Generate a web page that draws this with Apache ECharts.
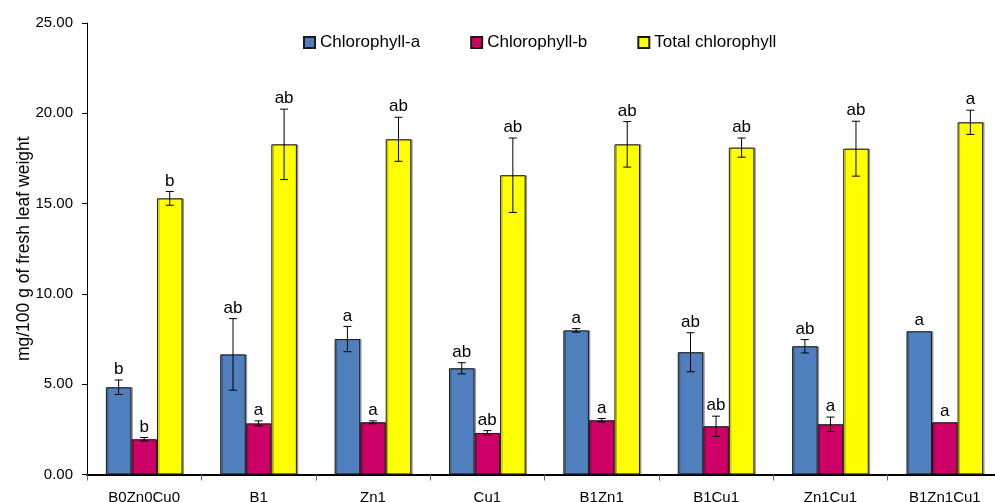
<!DOCTYPE html>
<html>
<head>
<meta charset="utf-8">
<style>
    html, body { margin: 0; padding: 0; background: #fff; }
    #chart { width: 995px; height: 502px; }
</style>
</head>
<body>
<div id="chart"></div>
<script src="https://cdn.jsdelivr.net/npm/echarts@6/dist/echarts.min.js"></script>
<script>
    // treatments
    var categories = ['B0Zn0Cu0', 'B1', 'Zn1', 'Cu1', 'B1Zn1', 'B1Cu1', 'Zn1Cu1', 'B1Zn1Cu1'];
    var yTicks = [0, 5, 10, 15, 20, 25];

    // means and error (+/-) per series
    var chlA = [4.83, 6.65, 7.50, 5.88, 7.98, 6.77, 7.10, 7.93];
    var chlAErr = [0.40, 1.98, 0.70, 0.31, 0.10, 1.08, 0.37, 0];
    var chlB = [1.95, 2.83, 2.89, 2.30, 3.00, 2.67, 2.78, 2.89];
    var chlBErr = [0.10, 0.14, 0.08, 0.13, 0.10, 0.56, 0.40, 0];
    var total = [15.29, 18.28, 18.56, 16.57, 18.28, 18.10, 18.04, 19.50];
    var totalErr = [0.38, 1.95, 1.22, 2.06, 1.26, 0.53, 1.52, 0.67];

    // significance letters
    var chlALetters = ['b', 'ab', 'a', 'ab', 'a', 'ab', 'ab', 'a'];
    var chlBLetters = ['b', 'a', 'a', 'ab', 'a', 'ab', 'a', 'a'];
    var totalLetters = ['b', 'ab', 'ab', 'ab', 'ab', 'ab', 'ab', 'a'];

    var FONT = "'Liberation Sans', Arial, sans-serif";
    var GAP = 0.33;

    function errData(vals, errs) {
        return vals.map(function (v, i) { return [i, v, errs[i]]; });
    }

    // error bar + letter drawn over the bar of series "pos" (0,1,2)
    function makeErr(pos, letters) {
        return function (params, api) {
            var i = api.value(0), v = api.value(1), e = api.value(2);
            var letter = letters[params.dataIndex];
            var band = api.size([1, 0])[0];
            var w = band * (1 - GAP) / 3;
            var c = api.coord([i, v]);
            var x = c[0] + (pos - 1) * w;
            var top = api.coord([i, v + e])[1];
            var bot = api.coord([i, v - e])[1];
            var kids = [];
            var st = { stroke: '#000', lineWidth: 1 };
            if (e > 0) {
                kids.push({ type: 'line', shape: { x1: x, y1: top, x2: x, y2: bot }, style: st });
                kids.push({ type: 'line', shape: { x1: x - 4, y1: top, x2: x + 4, y2: top }, style: st });
                kids.push({ type: 'line', shape: { x1: x - 4, y1: bot, x2: x + 4, y2: bot }, style: st });
            }
            kids.push({
                type: 'text',
                x: x,
                y: top - 2,
                style: {
                    text: letter,
                    align: 'center',
                    verticalAlign: 'bottom',
                    fill: '#000',
                    fontSize: 17,
                    fontFamily: FONT
                }
            });
            return { type: 'group', children: kids };
        };
    }

    var barStyle = function (color) {
        return {
            color: color,
            borderColor: '#1a1a1a',
            borderWidth: 1,
            shadowColor: 'rgba(0,0,0,0.3)',
            shadowOffsetX: 1.5,
            shadowOffsetY: 0
        };
    };

    var option = {
        animation: false,
        backgroundColor: '#fff',
        textStyle: { fontFamily: FONT, color: '#000' },
        legend: {
            data: ['Chlorophyll-a', 'Chlorophyll-b', 'Total chlorophyll'],
            left: 298,
            top: 29,
            icon: 'rect',
            itemWidth: 11,
            itemHeight: 11,
            itemGap: 50,
            textStyle: { fontSize: 17, color: '#000', fontFamily: FONT }
        },
        grid: { left: 87, right: -7, top: 23, bottom: 27.5, containLabel: false, outerBoundsMode: 'none' },
        xAxis: {
            type: 'category',
            data: categories,
            axisLine: { lineStyle: { color: '#000', width: 2 } },
            axisTick: { show: true, length: 6, lineStyle: { color: '#666' } },
            axisLabel: { color: '#000', fontSize: 15, margin: 16, fontFamily: FONT }
        },
        yAxis: {
            type: 'value',
            min: yTicks[0],
            max: yTicks[yTicks.length - 1],
            interval: 5,
            name: 'mg/100 g of fresh leaf weight',
            nameLocation: 'middle',
            nameRotate: 90,
            nameGap: 54,
            nameMoveOverlap: false,
            nameTextStyle: { fontSize: 17.5, color: '#000', fontFamily: FONT },
            splitLine: { show: false },
            axisLine: { show: true, lineStyle: { color: '#000', width: 1 } },
            axisTick: { show: true, length: 5, lineStyle: { color: '#000' } },
            axisLabel: {
                color: '#000', fontSize: 15, margin: 14, fontFamily: FONT,
                formatter: function (v) { return v.toFixed(2); }
            }
        },
        series: [
            { name: 'Chlorophyll-a', type: 'bar', data: chlA, barGap: 0, barCategoryGap: '33%', itemStyle: barStyle('#4F7FBC') },
            { name: 'Chlorophyll-b', type: 'bar', data: chlB, barGap: 0, barCategoryGap: '33%', itemStyle: barStyle('#CC0066') },
            { name: 'Total chlorophyll', type: 'bar', data: total, barGap: 0, barCategoryGap: '33%', itemStyle: barStyle('#FFFF00') },
            { type: 'custom', renderItem: makeErr(0, chlALetters), data: errData(chlA, chlAErr), z: 10, silent: true, clip: false },
            { type: 'custom', renderItem: makeErr(1, chlBLetters), data: errData(chlB, chlBErr), z: 10, silent: true, clip: false },
            { type: 'custom', renderItem: makeErr(2, totalLetters), data: errData(total, totalErr), z: 10, silent: true, clip: false }
        ]
    };

    echarts.init(document.getElementById('chart')).setOption(option);
</script>
</body>
</html>
